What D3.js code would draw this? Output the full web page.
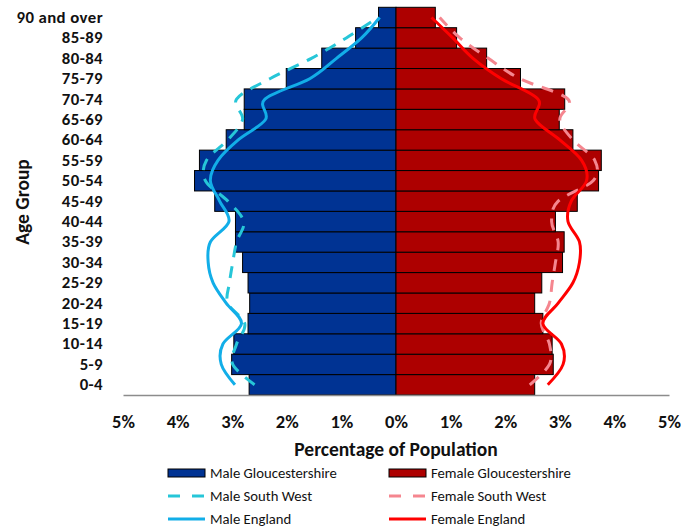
<!DOCTYPE html>
<html>
<head>
<meta charset="utf-8">
<script src="https://cdn.jsdelivr.net/npm/d3@7/dist/d3.min.js"></script>
<style>
  body { margin: 0; background: #fff; }
  svg { display: block; }
  text { font-family: Carlito, Lato, "Open Sans", sans-serif; }
</style>
</head>
<body>
<svg id="chart" width="681" height="530"></svg>
<script>
// ---- data (bottom-up age order) ----
const ageGroups = ["0-4","5-9","10-14","15-19","20-24","25-29","30-34","35-39","40-44","45-49","50-54","55-59","60-64","65-69","70-74","75-79","80-84","85-89","90 and over"];
const maleGlos   = [2.69,3.01,2.97,2.71,2.68,2.71,2.81,2.94,2.94,3.32,3.69,3.60,3.11,2.78,2.78,2.01,1.36,0.74,0.32];
const femaleGlos = [2.54,2.88,2.86,2.69,2.54,2.67,3.05,3.08,2.92,3.32,3.71,3.76,3.24,2.99,3.09,2.28,1.66,1.11,0.72];
const maleSW     = [2.59,2.99,2.92,2.77,3.08,3.05,2.99,2.92,2.79,3.08,3.49,3.47,3.08,2.81,2.92,2.31,1.55,0.91,0.33];
const femaleSW   = [2.45,2.81,2.81,2.66,2.81,2.86,2.92,2.97,2.85,2.97,3.61,3.64,3.24,3.00,3.15,2.27,1.69,1.17,0.80];
const maleEng    = [2.95,3.20,3.17,2.83,3.11,3.35,3.44,3.40,3.06,3.23,3.40,3.26,2.89,2.39,2.40,1.58,1.09,0.63,0.30];
const femaleEng  = [2.78,3.06,3.03,2.69,2.97,3.24,3.36,3.36,3.15,3.21,3.49,3.40,3.00,2.55,2.60,1.93,1.41,1.04,0.65];
const xTicks = [-5,-4,-3,-2,-1,0,1,2,3,4,5];
const legendItems = [
  {name:"Male Gloucestershire", type:"bar", color:"#003393"},
  {name:"Female Gloucestershire", type:"bar", color:"#ad0000"},
  {name:"Male South West", type:"dash", color:"#26c6d8"},
  {name:"Female South West", type:"dash", color:"#f5868f"},
  {name:"Male England", type:"line", color:"#12aee8"},
  {name:"Female England", type:"line", color:"#ff0000"}
];

const svg = d3.select("#chart");
const plotL = 123, plotR = 669, plotT = 7.3, plotB = 395;

const x = d3.scaleLinear().domain([-5,5]).range([plotL,plotR]);
const y = d3.scaleBand().domain(ageGroups.slice().reverse()).range([plotT,plotB]).padding(0);

// bars
const g = svg.append("g");
g.selectAll("rect.male").data(ageGroups).join("rect")
  .attr("x", (d,i)=>x(-maleGlos[i]))
  .attr("width", (d,i)=>x(0)-x(-maleGlos[i]))
  .attr("y", d=>y(d)).attr("height", y.bandwidth())
  .attr("fill", "#003393").attr("stroke","#000").attr("stroke-width",1);
g.selectAll("rect.female").data(ageGroups).join("rect")
  .attr("x", x(0))
  .attr("width", (d,i)=>x(femaleGlos[i])-x(0))
  .attr("y", d=>y(d)).attr("height", y.bandwidth())
  .attr("fill", "#ad0000").attr("stroke","#000").attr("stroke-width",1);

// x axis
const xAxis = svg.append("g").attr("transform",`translate(0,${plotB})`)
  .call(d3.axisBottom(x).tickValues(xTicks).tickSize(0).tickPadding(20)
        .tickFormat(d=>Math.abs(d)+"%"));
xAxis.select(".domain").attr("stroke","#8c8c8c").attr("stroke-width",1.5);
xAxis.selectAll("text").attr("font-size",18.5).attr("font-weight","bold").attr("fill","#111");

// y axis
const yAxis = svg.append("g").attr("transform",`translate(${plotL},0)`)
  .call(d3.axisLeft(y).tickSize(0).tickPadding(20));
yAxis.select(".domain").remove();
yAxis.selectAll("text").attr("font-size",16.8).attr("font-weight","bold")
  .attr("letter-spacing","0.4px").attr("fill","#111");

// lines
const line = (sign)=>d3.line()
  .x(d=>x(sign*d.v)).y(d=>y(d.a)+y.bandwidth()/2)
  .curve(d3.curveCatmullRom.alpha(0));
function drawLine(vals, sign, color, dash){
  const pts = ageGroups.map((a,i)=>({a, v:vals[i]}));
  svg.append("path").attr("d", line(sign)(pts))
    .attr("fill","none").attr("stroke",color).attr("stroke-width",3)
    .attr("stroke-dasharray", dash ? "12,9" : null);
}
drawLine(maleSW, -1, "#26c6d8", true);
drawLine(femaleSW, 1, "#f5868f", true);
drawLine(maleEng, -1, "#12aee8", false);
drawLine(femaleEng, 1, "#ff0000", false);

// axis titles
svg.append("text").attr("x",396).attr("y",456).attr("text-anchor","middle")
  .attr("font-size",19.5).attr("font-weight","bold").attr("fill","#111").text("Percentage of Population");
svg.append("text").attr("transform","translate(29,202) rotate(-90)").attr("text-anchor","middle")
  .attr("font-size",19.5).attr("font-weight","bold").attr("fill","#111").text("Age Group");

// legend
const legX = [168, 389], legY = [473, 496, 519];
legendItems.forEach((it,i)=>{
  const lx = legX[i%2], ly = legY[Math.floor(i/2)];
  const lg = svg.append("g");
  if (it.type==="bar") {
    lg.append("rect").attr("x",lx).attr("y",ly-4).attr("width",37).attr("height",8)
      .attr("fill",it.color).attr("stroke","#000").attr("stroke-width",1);
  } else {
    lg.append("line").attr("x1",lx).attr("x2",lx+37).attr("y1",ly).attr("y2",ly)
      .attr("stroke",it.color).attr("stroke-width",3)
      .attr("stroke-dasharray", it.type==="dash" ? "12,12" : null);
  }
  lg.append("text").attr("x",lx+42).attr("y",ly).attr("dy","0.35em")
    .attr("font-size",14.7).attr("fill","#111").text(it.name);
});
</script>
</body>
</html>
